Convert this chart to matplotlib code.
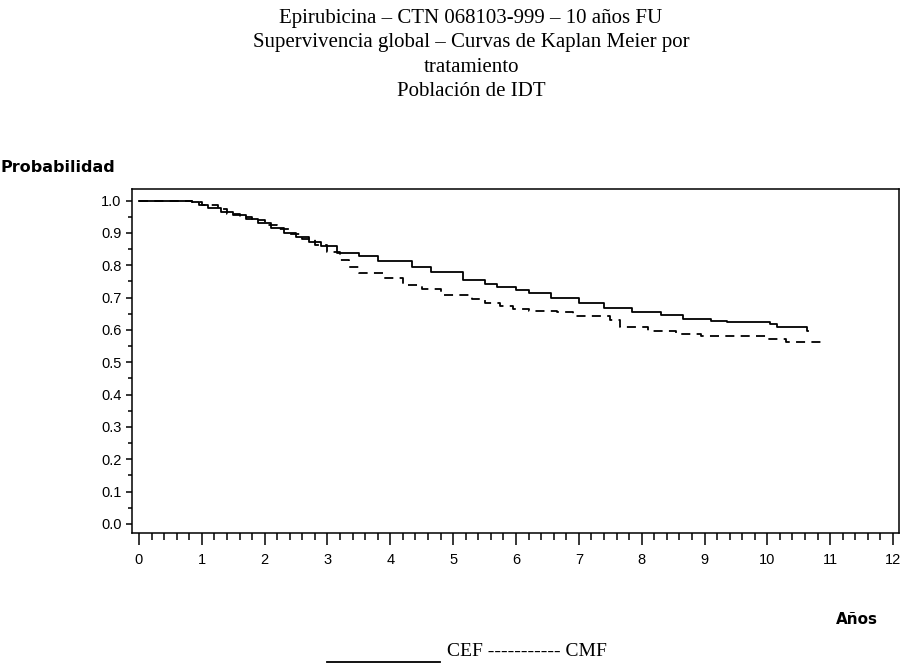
import matplotlib
matplotlib.use("Agg")
import matplotlib.pyplot as plt
from matplotlib.ticker import MultipleLocator, FormatStrFormatter

# ---- data ----
cef_t = [0, 0.85, 0.95, 1.1, 1.3, 1.5, 1.7, 1.9, 2.1, 2.3, 2.5, 2.7, 2.9, 3.15, 3.5, 3.8,
         4.35, 4.65, 5.15, 5.5, 5.7, 6.0, 6.2, 6.55, 7.0, 7.4, 7.85, 8.3, 8.65, 9.1, 9.35,
         10.05, 10.15, 10.63]
cef_s = [1.0, 0.995, 0.988, 0.978, 0.965, 0.955, 0.942, 0.93, 0.915, 0.90, 0.888, 0.873,
         0.86, 0.838, 0.829, 0.813, 0.795, 0.778, 0.755, 0.742, 0.732, 0.724, 0.714, 0.698,
         0.682, 0.667, 0.656, 0.645, 0.635, 0.628, 0.624, 0.617, 0.610, 0.597]
cef_end = 10.65

cmf_t = [0, 0.85, 1.0, 1.25, 1.4, 1.6, 1.8, 2.0, 2.2, 2.4, 2.6, 2.8, 3.0, 3.2, 3.35, 3.5,
         3.9, 4.2, 4.5, 4.8, 5.3, 5.5, 5.75, 5.95, 6.2, 6.65, 6.9, 7.5, 7.65, 8.1, 8.55,
         8.95, 10.0, 10.3]
cmf_s = [1.0, 0.995, 0.985, 0.975, 0.96, 0.95, 0.94, 0.925, 0.912, 0.898, 0.882, 0.862,
         0.84, 0.815, 0.795, 0.775, 0.76, 0.74, 0.728, 0.708, 0.695, 0.683, 0.675, 0.665,
         0.660, 0.655, 0.643, 0.631, 0.61, 0.597, 0.588, 0.582, 0.572, 0.563]
cmf_end = 10.88

x_ticks = list(range(0, 13))
y_ticks = [i / 10 for i in range(0, 11)]

title_lines = ["Epirubicina \u2013 CTN 068103-999 \u2013 10 años FU",
               "Supervivencia global \u2013 Curvas de Kaplan Meier por",
               "tratamiento",
               "Población de IDT"]
y_label = "Probabilidad"
x_label = "Años"
legend_names = ["CEF", "CMF"]

W, H = 902, 664
fig = plt.figure(figsize=(W / 100, H / 100), dpi=100)
ax = fig.add_axes([132 / W, (H - 533) / H, (899 - 132) / W, (533 - 189) / H])

sans = "DejaVu Sans"
tick_font = "Liberation Sans"
serif = "Liberation Serif"

ax.step(cef_t + [cef_end], cef_s + [cef_s[-1]], where="post", color="black", lw=1.3)
ax.step(cmf_t + [cmf_end], cmf_s + [cmf_s[-1]], where="post", color="black", lw=1.3,
        linestyle=(0, (5, 3.5)))

ax.set_xlim(-0.111, 12.095)
ax.set_ylim(-0.028, 1.036)
ax.set_xticks(x_ticks)
ax.xaxis.set_minor_locator(MultipleLocator(0.2))
ax.set_yticks(y_ticks)
ax.yaxis.set_minor_locator(MultipleLocator(0.05))
ax.yaxis.set_major_formatter(FormatStrFormatter("%.1f"))
ax.tick_params(axis="x", which="major", length=8.5, width=1.1, direction="out", pad=6,
               labelsize=10.5)
ax.tick_params(axis="x", which="minor", length=5, width=1.1, direction="out")
ax.tick_params(axis="y", which="major", length=4.5, width=1.1, direction="out", pad=3,
               labelsize=10.5)
ax.tick_params(axis="y", which="minor", length=3, width=1.1, direction="out")
for lab in ax.get_xticklabels() + ax.get_yticklabels():
    lab.set_fontfamily(tick_font)
for sp in ax.spines.values():
    sp.set_linewidth(1.1)

for i, line in enumerate(title_lines):
    fig.text(471 / W, 1 - (19 + 24 * i) / H, line, ha="center", va="center",
             family=serif, fontsize=15)

fig.text(0 / W, 1 - 167 / H, y_label, ha="left", va="center", family=sans,
         fontweight="bold", fontsize=11.5)
fig.text(878 / W, 1 - 620 / H, x_label, ha="right", va="center", family=sans,
         fontweight="bold", fontsize=11)

# legend at the bottom
fig.add_artist(plt.Line2D([327 / W, 440 / W], [1 - 662 / H, 1 - 662 / H], color="black",
                          lw=1.3, transform=fig.transFigure))
fig.text(447 / W, 1 - 652 / H, legend_names[0] + " ----------- " + legend_names[1],
         ha="left", va="center", family=serif, fontsize=14)

fig.savefig("out.png", dpi=100)
